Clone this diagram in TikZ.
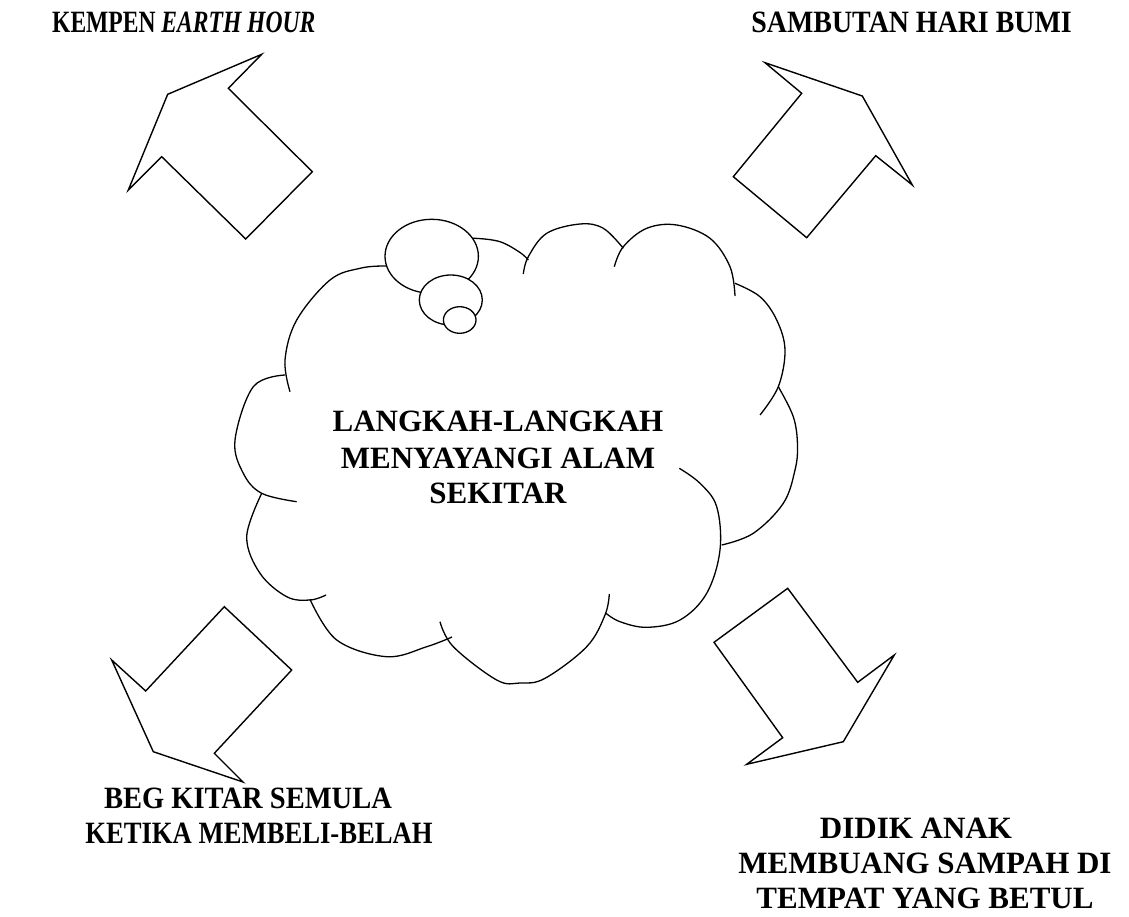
\documentclass[tikz,border=0pt]{standalone}
\usepackage{fontspec}
\setmainfont{Liberation Serif}
\begin{document}
\begin{tikzpicture}[x=1pt,y=-1pt,
  arrowshape/.style={draw=black, line width=1.4pt, line join=miter},
  lobe/.style={draw=black, line width=1.3pt},
  bubble/.style={draw=black, fill=white, line width=1.3pt},
  lbl/.style={font=\fontsize{31}{36}\selectfont\bfseries, inner sep=0pt, anchor=base}]
\useasboundingbox (0,0) rectangle (1129,916);

% arrows
\draw[arrowshape] (261.7,54.3) -- (228.3,88.3) -- (312.3,171.7) -- (245.7,239) -- (161.7,156.7) -- (128.3,190) -- (167.7,94.3) -- cycle;
\draw[arrowshape] (765,62.7) -- (801.7,93.3) -- (733.3,176.7) -- (806.7,237.7) -- (875.7,155.7) -- (912.3,185) -- (862.3,96) -- cycle;
\draw[arrowshape] (111.7,660) -- (145.7,691) -- (224.3,606.7) -- (291.7,670) -- (214.3,753.3) -- (243,782) -- (153.3,751.7) -- cycle;
\draw[arrowshape] (787.7,588.3) -- (857.7,682.3) -- (894.3,655) -- (843.3,741.7) -- (746.7,764.3) -- (782.7,737.7) -- (714,642.3) -- cycle;

% cloud lobes
\draw[lobe] plot[smooth, tension=0.6] coordinates {(290,391.7) (285,360) (296.7,320) (330,280) (360,268.3) (386.7,266) (405,268)};
\draw[lobe] plot[smooth, tension=0.6] coordinates {(470,240) (475,238.3) (500,241.7) (520,252.5) (528.3,260)};
\draw[lobe] plot[smooth, tension=0.6] coordinates {(623.3,248.3) (603.3,228.3) (580,224) (546.7,233.3) (528.3,256.7) (523.3,274)};
\draw[lobe] plot[smooth, tension=0.6] coordinates {(614.3,266.7) (623.3,246.7) (646.7,228.3) (676.7,225) (710,238.3) (730,266.7) (735,296)};
\draw[lobe] plot[smooth, tension=0.6] coordinates {(735,283.3) (760,296.7) (776.7,320) (785,350) (778.3,386.7) (760,415)};
\draw[lobe] plot[smooth, tension=0.6] coordinates {(778.3,386.7) (793.3,416.7) (797.5,445) (795,470) (783.3,503.3) (753.3,533.3) (721.7,545)};
\draw[lobe] plot[smooth, tension=0.6] coordinates {(679.3,468.3) (700,483.3) (716.7,506.7) (720,550) (706.7,593.3) (680,620) (646.7,627.3) (620,621.7) (606,613.3)};
\draw[lobe] plot[smooth, tension=0.6] coordinates {(609.3,594) (605,615) (586.7,646.7) (545,678.3) (520,683) (496.7,680) (453.3,646.7) (440,621.7)};
\draw[lobe] plot[smooth, tension=0.6] coordinates {(452,637) (426.7,646.7) (386.7,656.7) (336.7,640) (310,599.3)};
\draw[lobe] plot[smooth, tension=0.6] coordinates {(326,595) (310,600) (286.7,596.7) (260,573.3) (246.7,536.7) (261.7,493.3)};
\draw[lobe] plot[smooth, tension=0.6] coordinates {(296.7,501.7) (261.7,493.3) (243.3,473.3) (235,440) (253.3,386.7) (285,375)};

% thought bubbles
\draw[bubble] (431.7,256.3) ellipse [x radius=46.7pt, y radius=37pt];
\draw[bubble] (450.8,300) ellipse [x radius=31.5pt, y radius=25pt];
\draw[bubble] (459.7,320) ellipse [x radius=16.3pt, y radius=13.3pt];

% cloud text
\node[lbl] (c1) at (498,431.7) {LANGKAH-LANGKAH};
\node[lbl] (c2) at (498,468.3) {MENYAYANGI ALAM};
\node[lbl] (c3) at (498,503.3) {SEKITAR};

% labels
\node[lbl, anchor=base west] (kempen) at (52,32) {\scalebox{0.76}[1]{KEMPEN \textit{EARTH HOUR}}};
\node[lbl, anchor=base east] (sambutan) at (1072,32) {\scalebox{0.9}[1]{SAMBUTAN HARI BUMI}};
\node[lbl] (beg1) at (248,808) {\scalebox{0.92}[1]{BEG KITAR SEMULA}};
\node[lbl] (beg2) at (259,843) {\scalebox{0.86}[1]{KETIKA MEMBELI-BELAH}};
\node[lbl] (didik1) at (916,838) {DIDIK ANAK};
\node[lbl] (didik2) at (925,873) {MEMBUANG SAMPAH DI};
\node[lbl] (didik3) at (925,908) {TEMPAT YANG BETUL};
\end{tikzpicture}
\end{document}
